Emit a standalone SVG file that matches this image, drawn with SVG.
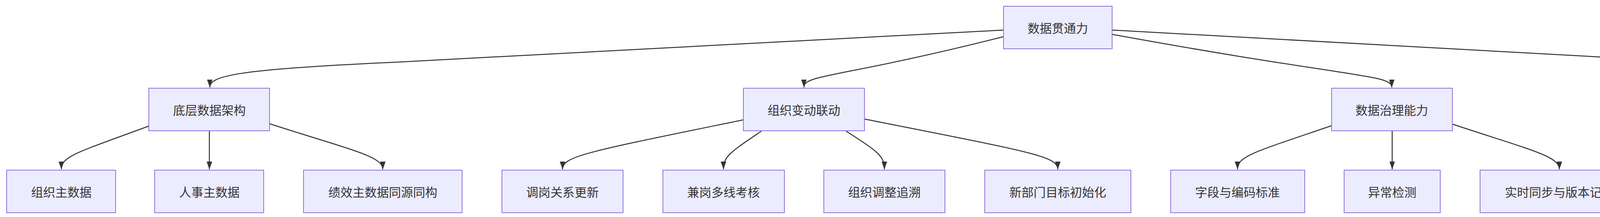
<svg xmlns="http://www.w3.org/2000/svg" width="5387" height="556" viewBox="0 0 5387 556">
<style>
.n rect{fill:#ECECFF;stroke:#9370DB;stroke-width:2}
.n text{font-family:"Noto Sans CJK SC","Liberation Sans",sans-serif;font-size:31px;fill:#333;text-anchor:middle;dominant-baseline:central}
.e path{fill:none;stroke:#333;stroke-width:2.5}
</style>
<defs><marker id="a" markerUnits="userSpaceOnUse" markerWidth="20" markerHeight="14" refX="20" refY="7" orient="auto"><path d="M0,0L20,7L0,14z" fill="#333"/></marker></defs>
<g class="e" marker-end="url(#a)">
<path marker-end="url(#a)" d="M2569,77 L1000,160 C600,178 537,195 537,224"/>
<path marker-end="url(#a)" d="M2569,94 C2150,200 2058,190 2058,224"/>
<path marker-end="url(#a)" d="M2847,88 C3460,200 3563,190 3563,224"/>
<path marker-end="url(#a)" d="M2847,77 L4350,160 C4740,178 4794,195 4794,224"/>
<path marker-end="url(#a)" d="M381,323 C200,390 157,400 157,434"/>
<path marker-end="url(#a)" d="M536,336 L536,434"/>
<path marker-end="url(#a)" d="M690,317 C900,385 980,400 980,434"/>
<path marker-end="url(#a)" d="M1903,307 C1500,390 1440,400 1440,434"/>
<path marker-end="url(#a)" d="M1949,336 C1870,390 1852,400 1852,434"/>
<path marker-end="url(#a)" d="M2166,336 C2250,390 2264,400 2264,434"/>
<path marker-end="url(#a)" d="M2213,305 C2640,390 2708,400 2708,434"/>
<path marker-end="url(#a)" d="M3409,322 C3210,390 3168,400 3168,434"/>
<path marker-end="url(#a)" d="M3564,336 L3564,434"/>
<path marker-end="url(#a)" d="M3718,318 C3920,385 3992,400 3992,434"/>
<path marker-end="url(#a)" d="M4654,319 C4460,390 4412,400 4412,434"/>
<path marker-end="url(#a)" d="M4794,336 L4794,434"/>
<path marker-end="url(#a)" d="M4933,315 C5140,385 5215,400 5215,434"/>
</g>
<g id="root" class="n"><rect x="2569" y="16" width="278" height="109"/><text x="2708" y="70">数据贯通力</text></g>
<g id="n1" class="n"><rect x="381" y="226" width="309" height="109"/><text x="536" y="280">底层数据架构</text></g>
<g id="n2" class="n"><rect x="1903" y="226" width="310" height="109"/><text x="2058" y="280">组织变动联动</text></g>
<g id="n3" class="n"><rect x="3409" y="226" width="309" height="109"/><text x="3563" y="280">数据治理能力</text></g>
<g id="n4" class="n"><rect x="4654" y="226" width="279" height="109"/><text x="4794" y="280">开放扩展性</text></g>
<g id="n11" class="n"><rect x="17" y="436" width="279" height="109"/><text x="157" y="490">组织主数据</text></g>
<g id="n12" class="n"><rect x="396" y="436" width="279" height="109"/><text x="536" y="490">人事主数据</text></g>
<g id="n13" class="n"><rect x="777" y="436" width="406" height="109"/><text x="980" y="490">绩效主数据同源同构</text></g>
<g id="n21" class="n"><rect x="1285" y="436" width="310" height="109"/><text x="1440" y="490">调岗关系更新</text></g>
<g id="n22" class="n"><rect x="1697" y="436" width="311" height="109"/><text x="1852" y="490">兼岗多线考核</text></g>
<g id="n23" class="n"><rect x="2109" y="436" width="310" height="109"/><text x="2264" y="490">组织调整追溯</text></g>
<g id="n24" class="n"><rect x="2521" y="436" width="374" height="109"/><text x="2708" y="490">新部门目标初始化</text></g>
<g id="n31" class="n"><rect x="2997" y="436" width="343" height="109"/><text x="3168" y="490">字段与编码标准</text></g>
<g id="n32" class="n"><rect x="3441" y="436" width="246" height="109"/><text x="3564" y="490">异常检测</text></g>
<g id="n33" class="n"><rect x="3789" y="436" width="406" height="109"/><text x="3992" y="490">实时同步与版本记录</text></g>
<g id="n41" class="n"><rect x="4297" y="436" width="229" height="109"/><text x="4412" y="490">标准API</text></g>
<g id="n42" class="n"><rect x="4626" y="436" width="334" height="109"/><text x="4793" y="490">ERP与财务集成</text></g>
<g id="n43" class="n"><rect x="5060" y="436" width="310" height="109"/><text x="5215" y="490">业务系统扩展</text></g>
</svg>
